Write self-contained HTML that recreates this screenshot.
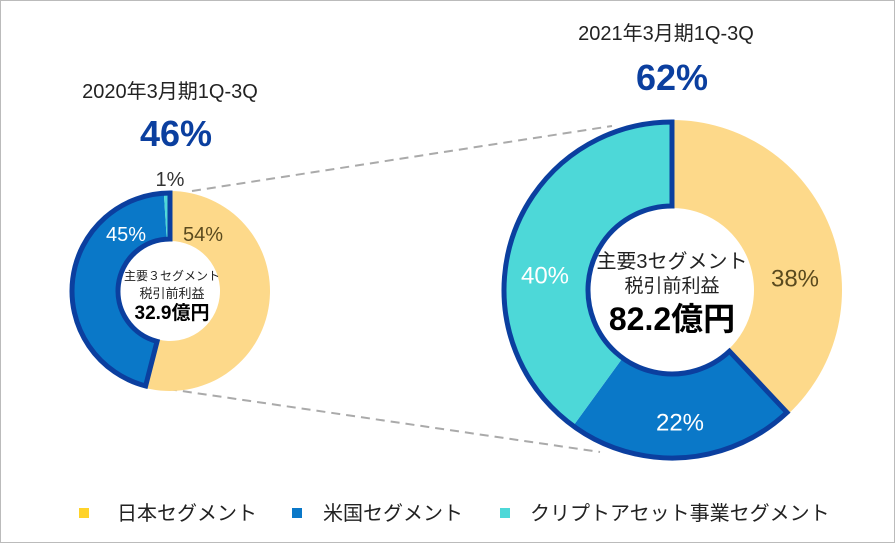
<!DOCTYPE html>
<html><head><meta charset="utf-8"><style>
body{margin:0;background:#fff}
svg{display:block;font-family:"Liberation Sans","Noto Sans CJK JP",sans-serif}
</style></head><body>
<svg width="895" height="543" viewBox="0 0 895 543">
<rect x="0.5" y="0.5" width="894" height="542" fill="#fff" stroke="#bbb"/>
<line x1="192" y1="191" x2="612" y2="126" stroke="#aaa" stroke-width="2" stroke-dasharray="9,6"/>
<line x1="168" y1="389" x2="600" y2="452" stroke="#aaa" stroke-width="2" stroke-dasharray="9,6"/>
<g id="donuts"></g>
<text x="170" y="98" font-size="20" text-anchor="middle" fill="#222">2020年3月期1Q-3Q</text>
<text x="176" y="146" font-size="36" font-weight="bold" text-anchor="middle" fill="#0b3f9f">46%</text>
<text x="666" y="40" font-size="20" text-anchor="middle" fill="#222">2021年3月期1Q-3Q</text>
<text x="672" y="90" font-size="36" font-weight="bold" text-anchor="middle" fill="#0b3f9f">62%</text>
<text x="172" y="280" font-size="12" text-anchor="middle" fill="#222">主要３セグメント</text>
<text x="172" y="298" font-size="13" text-anchor="middle" fill="#222">税引前利益</text>
<text x="172" y="319" font-size="19" font-weight="bold" text-anchor="middle" fill="#000">32.9億円</text>
<text x="672" y="268" font-size="20" text-anchor="middle" fill="#222">主要3セグメント</text>
<text x="672" y="292" font-size="19" text-anchor="middle" fill="#222">税引前利益</text>
<text x="672" y="330" font-size="32" font-weight="bold" text-anchor="middle" fill="#000">82.2億円</text>
<g>
<rect x="79" y="508" width="10" height="10" fill="#ffd32a"/>
<text x="117" y="520" font-size="20" fill="#222">日本セグメント</text>
<rect x="292" y="508" width="10" height="10" fill="#0a78c8"/>
<text x="323" y="520" font-size="20" fill="#222">米国セグメント</text>
<rect x="500" y="508" width="10" height="10" fill="#4dd8d8"/>
<text x="530" y="520" font-size="20" fill="#222">クリプトアセット事業セグメント</text>
</g>
</svg>
<script>
const segments=["日本","米国","クリプト"];
const values2020=[54,45,1];
const values2021=[38,22,40];
const colors=["#fdd98a","#0a78c8","#4dd8d8"];
const labelColors=["#5a4a1e","#ffffff","#ffffff"];
const NS="http://www.w3.org/2000/svg";
const g=document.getElementById('donuts');
function pt(cx,cy,r,f){const a=f*2*Math.PI;return [cx+r*Math.sin(a),cy-r*Math.cos(a)];}
function arc(cx,cy,R,r,f0,f1){
 const large=(f1-f0)>0.5?1:0;
 const [x0,y0]=pt(cx,cy,R,f0),[x1,y1]=pt(cx,cy,R,f1),[x2,y2]=pt(cx,cy,r,f1),[x3,y3]=pt(cx,cy,r,f0);
 return `M${x0},${y0}A${R},${R} 0 ${large} 1 ${x1},${y1}L${x2},${y2}A${r},${r} 0 ${large} 0 ${x3},${y3}Z`;
}
// layout-only label placement (offsets from donut centre)
const labelPos2020=[[33,-57],[-44,-57],[0,-112]];
const labelPos2021=[[123,-12],[8,132],[-127,-15]];
function donut(cx,cy,R,r,vals,name,fs,lp){
 const tot=vals.reduce((a,b)=>a+b,0);let c=0;
 vals.forEach((v,i)=>{
  const f0=c/tot,f1=(c+v)/tot;c+=v;
  const p=document.createElementNS(NS,'path');
  p.setAttribute('d',arc(cx,cy,R,r,f0,f1));p.setAttribute('fill',colors[i]);
  
  
  g.appendChild(p);
 });
 const f0=vals[0]/tot;
 const o=document.createElementNS(NS,'path');
 o.setAttribute('d',arc(cx,cy,R-2,r+2,f0,0.99999));
 o.setAttribute('fill','none');o.setAttribute('stroke','#0b3f9f');o.setAttribute('stroke-width','5');o.setAttribute('stroke-linejoin','miter');
 
 
 g.appendChild(o);
 vals.forEach((v,i)=>{
  const t=document.createElementNS(NS,'text');
  let col=(v/tot<0.05)?'#333':labelColors[i];
  t.setAttribute('x',cx+lp[i][0]);t.setAttribute('y',cy+lp[i][1]+fs*0.35);t.setAttribute('font-size',fs);
  t.setAttribute('text-anchor','middle');t.setAttribute('fill',col);
  t.textContent=v+'%';
  
  
  g.appendChild(t);
 });
}
donut(170,291,100,50,values2020,'donut-2020',20,labelPos2020);
donut(672,290,170,82,values2021,'donut-2021',24,labelPos2021);
</script>
</body></html>
